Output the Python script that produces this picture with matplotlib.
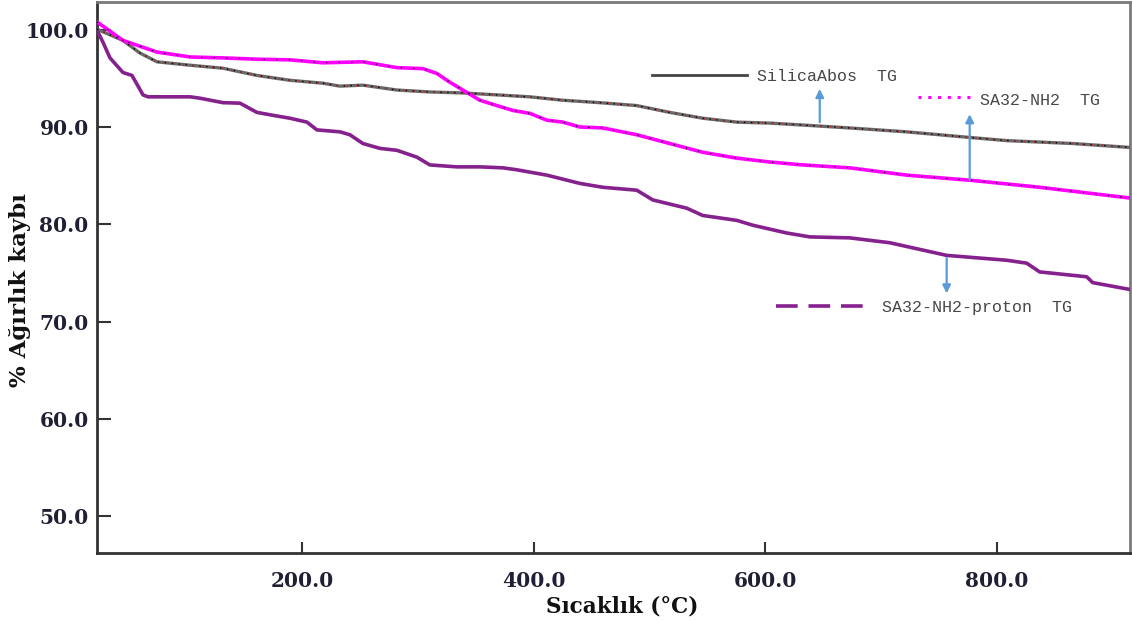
import numpy as np
import matplotlib.pyplot as plt

# TG curves: temperature (°C) vs % weight
silica_T = [23.0, 45.4, 60.1, 74.8, 103.3, 131.8, 161.1, 189.6, 218.1, 232.8, 252.6,
            282.0, 310.4, 338.9, 368.3, 396.8, 425.2, 457.2, 489.1, 517.6, 546.1, 575.4,
            603.9, 632.4, 673.0, 722.2, 774.0, 808.5, 865.5, 914.7]
silica_W = [100.05, 98.9, 97.6, 96.7, 96.35, 96.04, 95.3, 94.8, 94.5, 94.2, 94.3,
            93.8, 93.6, 93.5, 93.3, 93.1, 92.75, 92.5, 92.2, 91.5, 90.9, 90.5,
            90.4, 90.2, 89.9, 89.5, 88.95, 88.6, 88.3, 87.9]

nh2_T = [23.0, 45.4, 74.8, 103.3, 131.8, 161.1, 189.6, 218.1, 252.6, 282.0, 304.4, 316.5,
         327.7, 338.9, 353.6, 368.3, 382.1, 396.8, 411.4, 425.2, 439.9, 459.8, 489.1,
         517.6, 546.1, 575.4, 603.9, 632.4, 673.0, 722.2, 779.2, 837.0, 914.7]
nh2_W = [100.8, 98.9, 97.7, 97.2, 97.1, 96.97, 96.9, 96.6, 96.7, 96.1, 96.0, 95.5,
         94.6, 93.8, 92.75, 92.2, 91.7, 91.4, 90.7, 90.5, 90.0, 89.9, 89.2,
         88.3, 87.4, 86.8, 86.4, 86.1, 85.8, 85.05, 84.5, 83.8, 82.7]

proton_T = [23.0, 28.2, 34.2, 45.4, 53.2, 62.7, 67.0, 103.3, 111.9, 131.8, 146.4, 161.1,
            174.9, 189.6, 204.3, 212.9, 232.8, 241.4, 252.6, 267.3, 282.0, 299.2, 310.4,
            333.7, 353.6, 373.5, 385.5, 411.4, 439.9, 459.8, 489.1, 502.9, 532.3, 546.1,
            575.4, 589.3, 618.6, 638.5, 673.0, 707.5, 756.7, 808.5, 825.8, 837.0, 877.6,
            882.8, 914.7]
proton_W = [99.95, 98.7, 97.1, 95.6, 95.3, 93.3, 93.1, 93.1, 92.96, 92.5, 92.45, 91.5,
            91.2, 90.9, 90.5, 89.7, 89.5, 89.2, 88.3, 87.8, 87.6, 86.9, 86.1,
            85.9, 85.9, 85.8, 85.6, 85.05, 84.2, 83.8, 83.5, 82.5, 81.65, 80.9,
            80.4, 79.9, 79.1, 78.7, 78.6, 78.1, 76.8, 76.3, 76.0, 75.1, 74.6,
            74.0, 73.3]

y_ticks = [50, 60, 70, 80, 90, 100]
x_ticks = [200, 400, 600, 800]

legend_font = dict(family='Liberation Mono', size=12, color='#474747')
arrow_blue = '#5b9bd5'
purple = '#86208e'

fig = plt.figure(figsize=(11.32, 6.29), dpi=100)
ax = fig.add_axes([0.0857, 0.1208, 0.9123, 0.8768])

# SilicaAbos: grey trace with black/red specks
ax.plot(silica_T, silica_W, color='#6a6a6a', lw=2.4, zorder=3)
ax.plot(silica_T, silica_W, color='black', lw=1.0, ls=(0, (1, 4)), zorder=4)
ax.plot(silica_T, silica_W, color='#d62020', lw=1.0, ls=(2, (1, 6)), zorder=4)

# SA32-NH2: magenta with dark specks
ax.plot(nh2_T, nh2_W, color='#ff00ff', lw=2.6, zorder=3)
ax.plot(nh2_T, nh2_W, color='black', lw=0.9, ls=(0, (1, 9)), zorder=4)

# SA32-NH2-proton: purple
ax.plot(proton_T, proton_W, color=purple, lw=2.6, zorder=3)
ax.plot(proton_T, proton_W, color='#555555', lw=0.8, ls=(0, (1, 14)), zorder=4)

ax.set_xlim(23.0, 914.8)
ax.set_ylim(46.2, 102.9)

ax.set_xticks(x_ticks)
ax.set_xticklabels([f'{v:.1f}' for v in x_ticks])
ax.set_yticks(y_ticks)
ax.set_yticklabels([f'{v:.1f}' for v in y_ticks])
for lbl in ax.get_xticklabels() + ax.get_yticklabels():
    lbl.set_fontfamily('DejaVu Serif')
    lbl.set_fontweight('bold')
    lbl.set_fontsize(14.5)
    lbl.set_color('#1f2033')

ax.tick_params(axis='y', direction='in', length=10, width=1.5, pad=6, color='#333333')
ax.tick_params(axis='x', direction='in', length=8, width=1.5, pad=13, color='#333333')

for side in ['left', 'bottom']:
    ax.spines[side].set_linewidth(2.0)
    ax.spines[side].set_color('#333333')
for side in ['top', 'right']:
    ax.spines[side].set_linewidth(2.0)
    ax.spines[side].set_color('#7a7a7a')

# axis titles
fig.text(622 / 1132, 1 - 607 / 629, 'Sıcaklık (°C)', family='DejaVu Serif',
         weight='bold', size=15.5, color='#111111', ha='center', va='center')
fig.text(20 / 1132, 1 - 290 / 629, '% Ağırlık kaybı', family='DejaVu Serif',
         weight='bold', size=16.5, color='#111111', ha='center', va='center', rotation=90)

# inline legend entries
ax.plot([502.1, 584.1], [95.3, 95.3], color='#444444', lw=2.0)
ax.text(592.7, 95.2, 'SilicaAbos  TG', va='center', ha='left', **legend_font)

ax.plot([732.0, 777.0], [93.06, 93.06], color='#ff00ff', lw=2.2, ls=(0, (1, 2.2)))
ax.text(785.2, 92.75, 'SA32-NH2  TG', va='center', ha='left', **legend_font)

ax.plot([609.1, 692.0], [71.6, 71.6], color=purple, lw=2.6, ls=(0, (6, 3, 6, 3, 6, 3, 1, 3)))
ax.text(700.6, 71.4, 'SA32-NH2-proton  TG', va='center', ha='left', **legend_font)

# arrows linking labels to curves
arrow_kw = dict(arrowstyle='-|>', color=arrow_blue, lw=1.6, mutation_scale=12)
ax.annotate('', xy=(647.1, 94.2), xytext=(647.1, 90.2), arrowprops=arrow_kw)
ax.annotate('', xy=(776.6, 91.6), xytext=(776.6, 84.3), arrowprops=arrow_kw)
ax.annotate('', xy=(756.7, 72.6), xytext=(756.7, 76.8), arrowprops=arrow_kw)

fig.savefig('out.png', dpi=100)
